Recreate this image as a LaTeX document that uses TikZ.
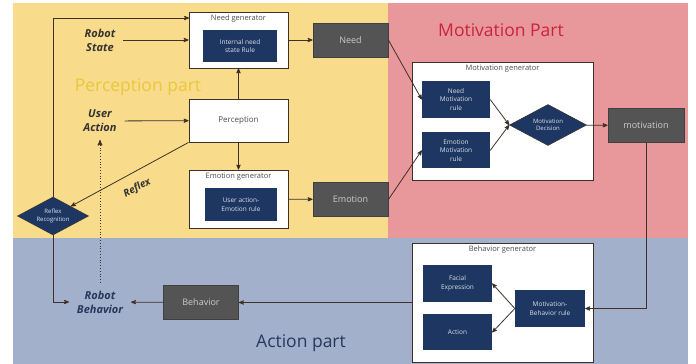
\documentclass[tikz,border=0pt]{standalone}
\usepackage{fontspec}
\setmainfont{Open Sans}
\usetikzlibrary{arrows,calc,positioning,shapes.geometric}
\definecolor{percbg}{RGB}{249,219,140}
\definecolor{motbg}{RGB}{232,152,155}
\definecolor{actbg}{RGB}{163,176,204}
\definecolor{navy}{RGB}{30,55,98}
\definecolor{slate}{RGB}{84,84,84}
\definecolor{wire}{RGB}{62,50,40}
\definecolor{percgold}{RGB}{232,200,60}
\definecolor{motred}{RGB}{200,36,60}
\definecolor{actnavy}{RGB}{40,55,92}
\tikzset{
    >=stealth',
    genbox/.style={
           rectangle,
           draw=wire, line width=0.9pt,
           fill=white,
           text=black!70,
           font=\fontsize{8}{9.5}\selectfont},
    gentitle/.style={
           label={[anchor=north, inner sep=3pt, text=black!70,
                   font=\fontsize{7.5}{9}\selectfont]north:#1}},
    rulebox/.style={
           rectangle,
           fill=navy,
           text=white!85!navy,
           align=center,
           inner sep=1pt,
           font=\fontsize{6.5}{8.5}\selectfont},
    valbox/.style={
           rectangle,
           draw=black!75, line width=0.8pt,
           fill=slate,
           text=black!20,
           minimum width=75pt, minimum height=34pt,
           font=\fontsize{9}{11}\selectfont},
    decide/.style={
           diamond, aspect=2,
           fill=navy,
           draw=black!80, line width=0.6pt,
           text=white!85!navy,
           align=center,
           inner sep=0pt,
           font=\fontsize{6}{7.5}\selectfont},
    io/.style={
           align=center,
           text=black!80,
           inner sep=1pt, outer sep=7pt,
           font=\fontsize{11}{14}\selectfont\bfseries\itshape},
    parttext/.style={
           font=\fontsize{17.5}{20}\selectfont},
    pil/.style={
           ->,
           draw=wire,
           line width=0.8pt}
}
\begin{document}
\begin{tikzpicture}[x=1pt, y=-1pt]
        \useasboundingbox (0,0) rectangle (696,364);
        % three parts
        \fill[white] (0,0) rectangle (696,364);
        \fill[percbg] (13,3) rectangle (388,238);
        \fill[motbg] (388,3) rectangle (688,238);
        \fill[actbg] (13,238) rectangle (688,364);

        \node[parttext, text=percgold] (perctitle) at (138,87) {Perception part};
        \node[parttext, text=motred] (mottitle) at (501,30) {Motivation Part};
        \node[parttext, text=actnavy] (acttitle) at (301,343) {Action part};

        % perception
        \node[genbox, minimum width=99pt, minimum height=56pt, gentitle=Need generator] (needgen) at (238.5,40) {};
        \node[rulebox, minimum width=74pt, minimum height=32pt] (needrule) at (240,46) {Internal need\\state Rule};
        \node[valbox] (need) at (350.5,40) {Need};
        \node[genbox, minimum width=99pt, minimum height=43pt] (perc) at (238.5,120.5) {Perception};
        \node[genbox, minimum width=99pt, minimum height=58pt, gentitle=Emotion generator] (emogen) at (238.5,199) {};
        \node[rulebox, minimum width=72pt, minimum height=33pt] (emorule) at (241,204.5) {User action-\\Emotion rule};
        \node[valbox] (emo) at (350.5,199.5) {Emotion};
        \node[io] (robstate) at (100,40) {Robot\\State};
        \node[io] (useract) at (100,121) {User\\Action};
        \node[decide, minimum width=71pt, minimum height=38pt] (reflexdia) at (53,216) {Reflex\\Recognition};
        \coordinate (ntop) at (189,18);

        % motivation
        \node[genbox, minimum width=181pt, minimum height=118pt, gentitle=Motivation generator] (motgen) at (502.5,121) {};
        \node[rulebox, minimum width=68pt, minimum height=37pt] (needmot) at (456,99.5) {Need\\Motivation\\rule};
        \node[rulebox, minimum width=68pt, minimum height=36pt, below=14pt of needmot] (emomot) {Emotion\\Motivation\\rule};
        \node[decide, minimum width=77pt, minimum height=41pt] (decision) at (548,125) {Motivation\\Decision};
        \node[valbox, minimum width=76pt] (mot) at (646,125.5) {motivation};

        % action
        \node[genbox, minimum width=181pt, minimum height=119pt, gentitle=Behavior generator] (behgen) at (502.5,302.5) {};
        \node[rulebox, minimum width=69pt, minimum height=37pt] (facial) at (457.5,283.5) {Facial\\Expression};
        \node[rulebox, minimum width=69pt, minimum height=36pt, below=12pt of facial] (action) {Action};
        \node[rulebox, minimum width=70pt, minimum height=37pt] (mbrule) at (550,308.5) {Motivation-\\Behavior rule};
        \node[valbox] (beh) at (201,302.5) {Behavior};
        \node[io, text=actnavy] (robbeh) at (100,302) {Robot\\Behavior};

        \draw[pil] (reflexdia.north) |- (ntop);
        \draw[pil] (robstate) -- (needgen);
        \draw[pil] (useract) -- (perc);
        \draw[pil] (perc) -- (needgen);
        \draw[pil] (perc) -- (emogen);
        \draw[pil] (needgen) -- (need);
        \draw[pil] (emogen) -- (emo);
        \draw[pil] (perc.south west) -- node[pos=0.5, below=7pt, sloped, font=\fontsize{10}{12}\selectfont\bfseries\itshape, text=black!80] {Reflex} (reflexdia);

        \draw[pil] (need.east) -- (needmot.west);
        \draw[pil] (emo.east) -- (emomot.west);
        \draw[pil] (needmot.east) -- (decision.west);
        \draw[pil] (emomot.east) -- (decision.west);
        \draw[pil] (decision) -- (mot);
        \draw[pil] (mot.south) |- (mbrule.east);

        \draw[pil] (mbrule.west) -- (facial.east);
        \draw[pil] (mbrule.west) -- (action.east);
        \draw[pil] (behgen) -- (beh);
        \draw[pil] (beh) -- (robbeh);
        \draw[pil] (reflexdia.south) |- (robbeh.west);
        \draw[pil, dotted, line width=1pt] (robbeh) -- (useract);
    \end{tikzpicture}
\end{document}
